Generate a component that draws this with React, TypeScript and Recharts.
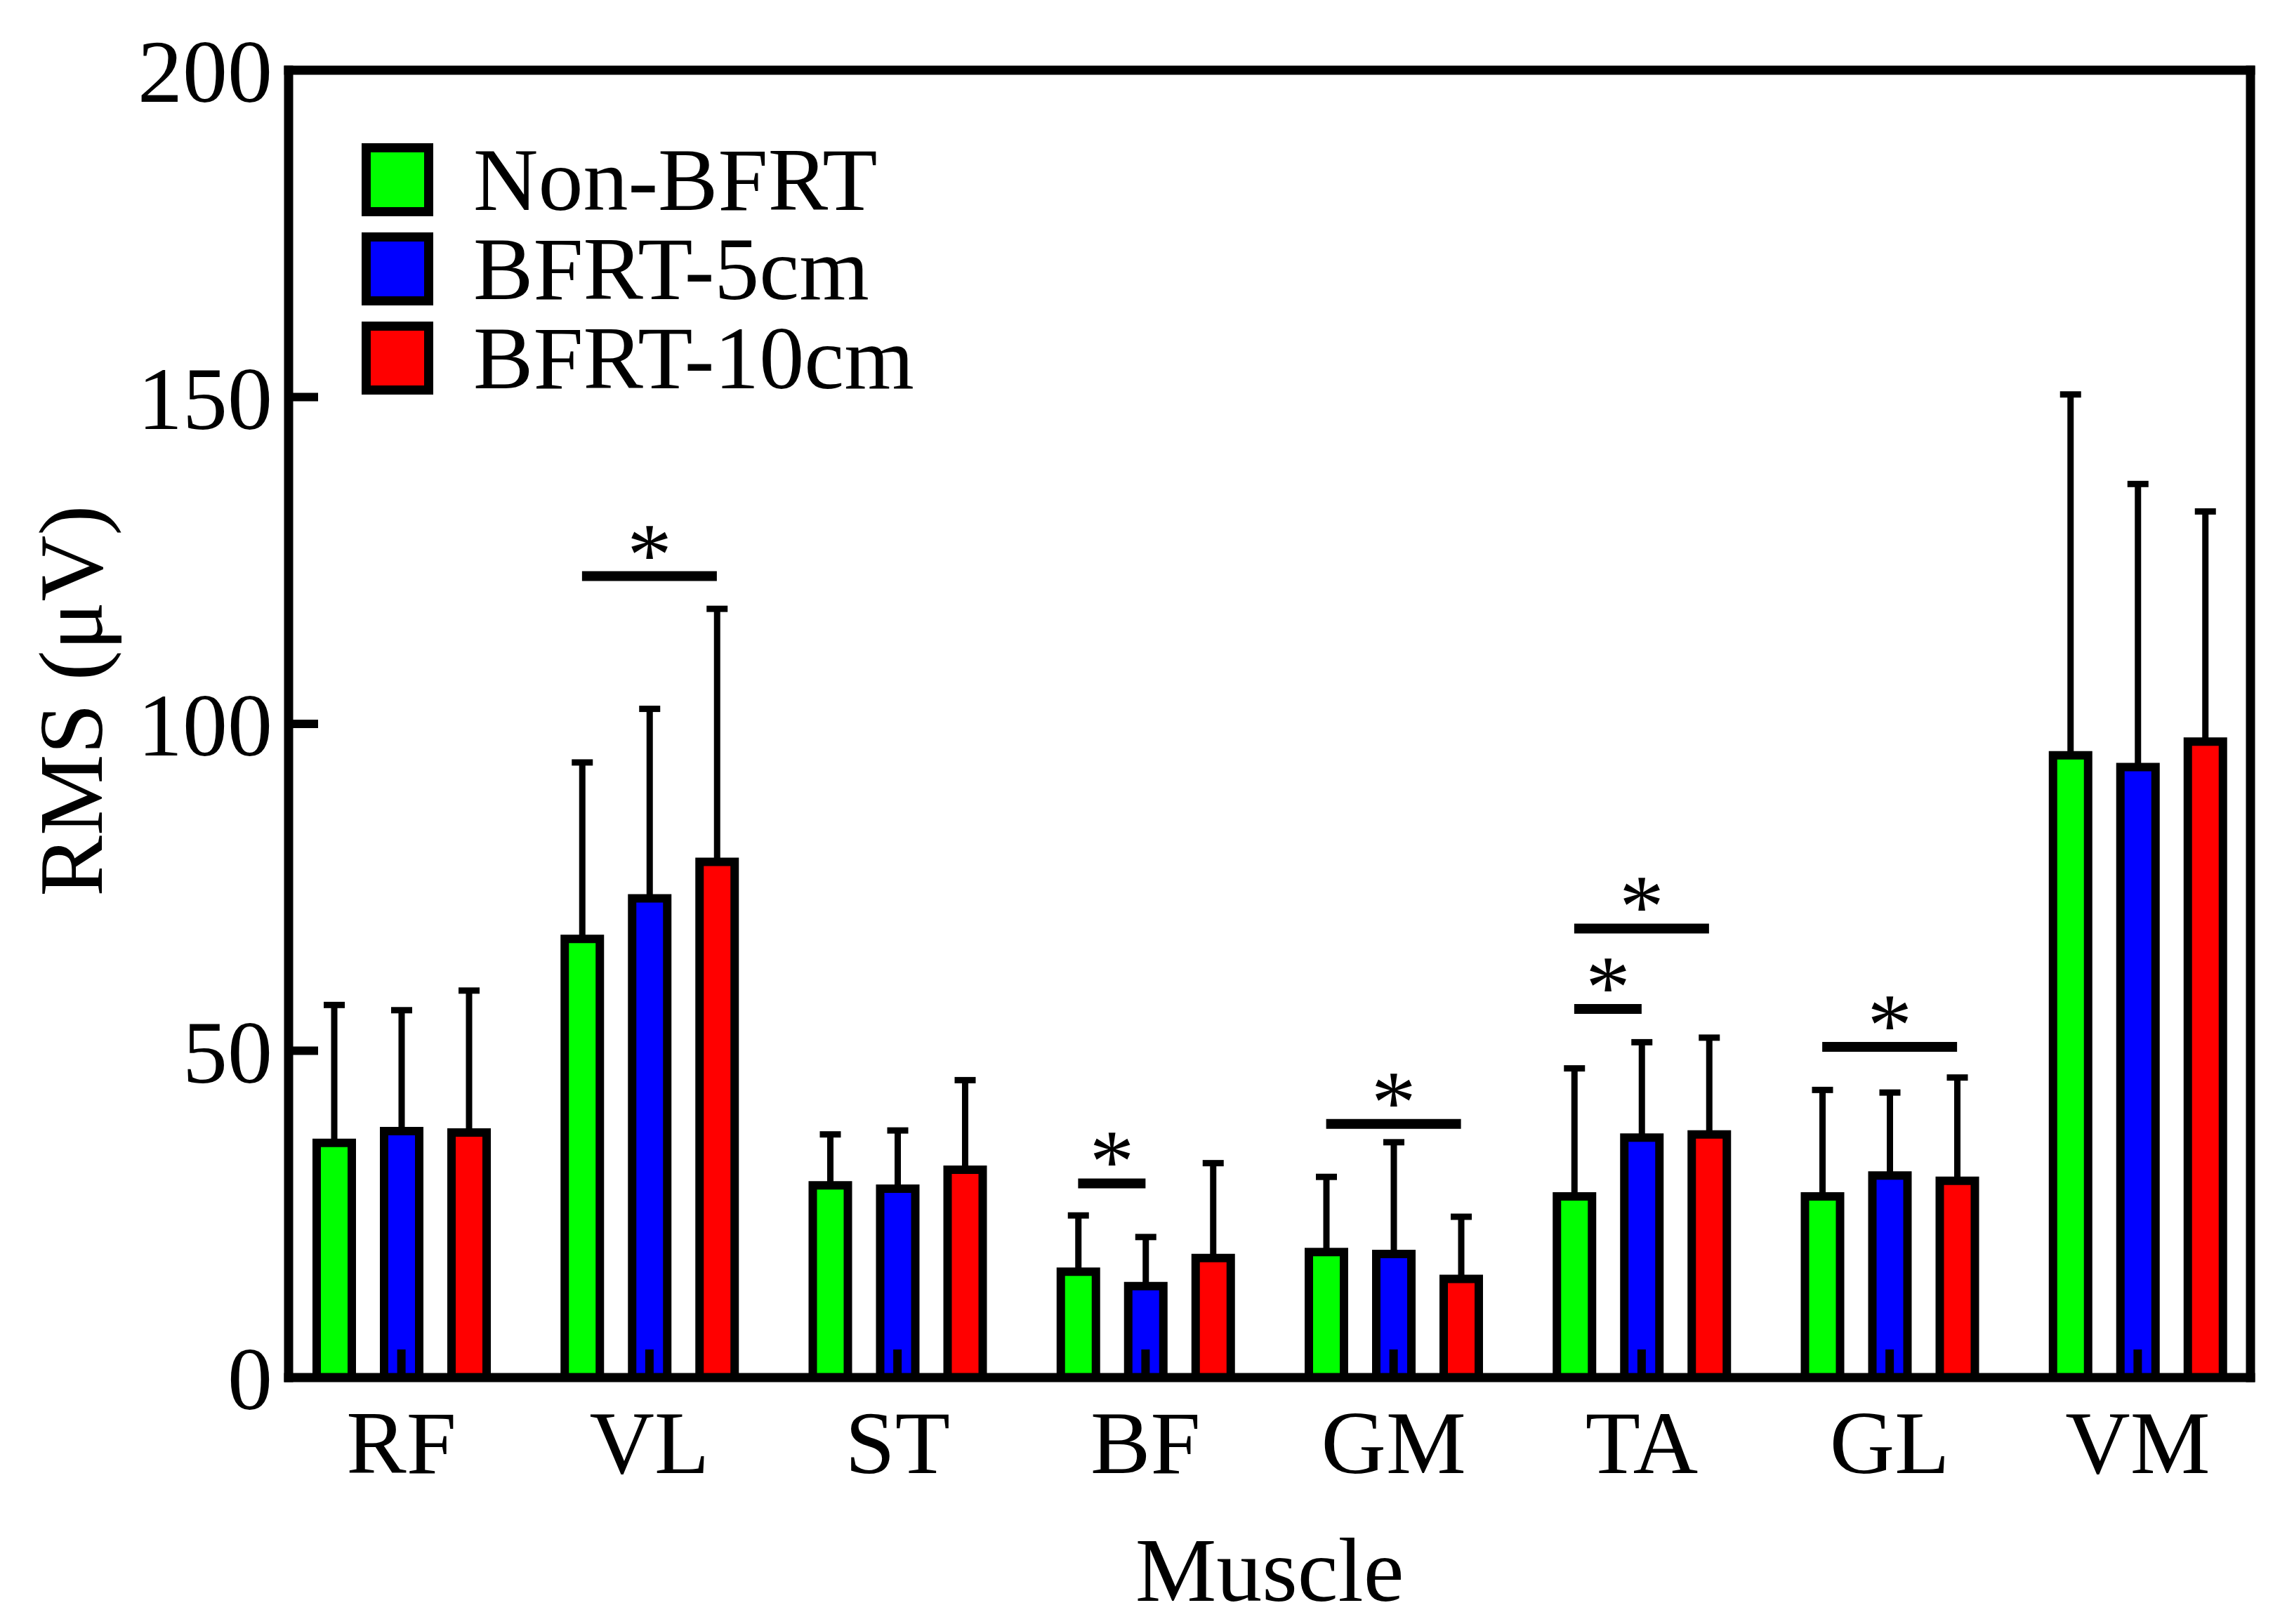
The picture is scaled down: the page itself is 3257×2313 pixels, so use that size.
import React from 'react';
import { ComposedChart, Bar, ErrorBar, XAxis, YAxis, ReferenceLine, Legend } from 'recharts';

const FONT = '"Liberation Serif", "Times New Roman", serif';

// values (mean and upper SD, µV)
const muscles = ['RF', 'VL', 'ST', 'BF', 'GM', 'TA', 'GL', 'VM'];
const nonBfrtMean = [35.9, 67.1, 29.4, 16.2, 19.2, 27.7, 27.7, 95.2];
const nonBfrtSd = [21.1, 27.0, 7.8, 8.6, 11.5, 19.6, 16.3, 55.2];
const bfrt5Mean = [37.7, 73.3, 28.9, 14.0, 18.9, 36.7, 30.9, 93.4];
const bfrt5Sd = [18.5, 29.0, 8.9, 7.5, 17.1, 14.6, 12.7, 43.3];
const bfrt10Mean = [37.5, 78.9, 31.8, 18.3, 15.1, 37.2, 30.1, 97.3];
const bfrt10Sd = [21.7, 38.7, 13.7, 14.5, 9.5, 14.8, 15.8, 35.2];
const yTicks = [0, 50, 100, 150, 200];

const series = [
  { key: 'nonBfrt', name: 'Non-BFRT', color: '#00ff00' },
  { key: 'bfrt5', name: 'BFRT-5cm', color: '#0000ff' },
  { key: 'bfrt10', name: 'BFRT-10cm', color: '#ff0000' },
];

// significance brackets: muscle, from/to group index, height in µV
const sigMuscle = ['VL', 'BF', 'GM', 'TA', 'TA', 'GL'];
const sigFrom = [0, 0, 0, 0, 0, 0];
const sigTo = [2, 1, 2, 1, 2, 2];
const sigLevel = [122.6, 29.7, 38.8, 56.4, 68.7, 50.6];

const data = muscles.map((m, i) => ({
  muscle: m,
  nonBfrt: nonBfrtMean[i],
  nonBfrtErr: [0, nonBfrtSd[i]],
  bfrt5: bfrt5Mean[i],
  bfrt5Err: [0, bfrt5Sd[i]],
  bfrt10: bfrt10Mean[i],
  bfrt10Err: [0, bfrt10Sd[i]],
}));

const W = 3257;
const H = 2313;
const MARGIN = { top: 80, right: 32, bottom: 51, left: 111 };
const LEFT_W = 300;
const RIGHT_W = 20;
const PAD = -16;
const BAR = 50;
const GAP = 46;
const PLOT_W = W - MARGIN.left - MARGIN.right - LEFT_W - RIGHT_W;
const BAND = (PLOT_W - 2 * PAD) / muscles.length;
// the hidden numeric axis runs from the first to the last category centre
const NUM_PAD = PAD + BAND / 2;

// position on the hidden numeric axis of the centre of bar k in category i
const barCentre = (i: number, k: number) => i + ((k - 1) * (BAR + GAP)) / BAND;

const axisLine = { stroke: '#000', strokeWidth: 13, strokeLinecap: 'square' as const };
const tickLine = { stroke: '#000', strokeWidth: 12 };
const tickFont = { fill: '#000', fontSize: 128, fontFamily: FONT };

const YTitle = (props: any) => {
  const vb = props.viewBox || { x: MARGIN.left, y: MARGIN.top + 20, width: LEFT_W, height: 1862 };
  const cx = vb.x + 34;
  const cy = vb.y + vb.height / 2 - 33;
  return (
    <text
      x={cx}
      y={cy}
      transform={`rotate(-90, ${cx}, ${cy})`}
      textAnchor="middle"
      fill="#000"
      fontSize={130}
      fontFamily={FONT}
    >
      RMS (μV)
    </text>
  );
};

const LegendBox = () => (
  <div style={{ fontFamily: FONT }}>
    {series.map((s) => (
      <div key={s.key} style={{ display: 'flex', alignItems: 'center', height: 127 }}>
        <svg width={102} height={104} style={{ display: 'block' }}>
          <rect x={6.5} y={6.5} width={89} height={91} fill={s.color} stroke="#000" strokeWidth={13} />
        </svg>
        <span
          style={{
            display: 'block',
            marginLeft: 57,
            fontSize: 128,
            height: 110,
            lineHeight: '110px',
            color: '#000',
            whiteSpace: 'nowrap',
          }}
        >
          {s.name}
        </span>
      </div>
    ))}
  </div>
);

export default function App() {
  return (
    <div style={{ position: 'absolute', left: 0, top: 0, width: W, height: H, background: '#fff' }}>
      <ComposedChart width={W} height={H} data={data} margin={MARGIN} barGap={GAP}>
        {series.map((s) => (
          <Bar
            key={s.key}
            dataKey={s.key}
            name={s.name}
            fill={s.color}
            stroke="#000"
            strokeWidth={12}
            barSize={BAR}
            isAnimationActive={false}
          >
            <ErrorBar
              dataKey={`${s.key}Err`}
              direction="y"
              width={15}
              stroke="#000"
              strokeWidth={9}
              isAnimationActive={false}
            />
          </Bar>
        ))}

        {sigLevel.map((lvl, j) => {
          const i = muscles.indexOf(sigMuscle[j]);
          return (
            <ReferenceLine
              key={`sig-${j}`}
              xAxisId="num"
              segment={[
                { x: barCentre(i, sigFrom[j]), y: lvl },
                { x: barCentre(i, sigTo[j]), y: lvl },
              ]}
              stroke="#000"
              strokeWidth={14}
              ifOverflow="visible"
              label={{ value: '*', position: 'top', offset: -12, fill: '#000', fontSize: 128, fontFamily: FONT }}
            />
          );
        })}

        <XAxis
          dataKey="muscle"
          height={300}
          padding={{ left: PAD, right: PAD }}
          interval={0}
          axisLine={axisLine}
          tickLine={tickLine}
          tickSize={-40}
          tickMargin={85}
          tick={tickFont}
          label={{ value: 'Muscle', position: 'insideBottom', offset: -18, fill: '#000', fontSize: 130, fontFamily: FONT }}
        />
        <XAxis
          xAxisId="top"
          orientation="top"
          dataKey="muscle"
          height={20}
          padding={{ left: PAD, right: PAD }}
          interval={0}
          axisLine={axisLine}
          tickLine={tickLine}
          tickSize={-42}
          tick={false}
        />
        <XAxis
          xAxisId="num"
          type="number"
          domain={[0, muscles.length - 1]}
          padding={{ left: NUM_PAD, right: NUM_PAD }}
          allowDataOverflow
          hide
        />
        <YAxis
          width={LEFT_W}
          domain={[0, 200]}
          ticks={yTicks}
          interval={0}
          allowDataOverflow
          axisLine={axisLine}
          tickLine={tickLine}
          tickSize={-42}
          tickMargin={65}
          tick={tickFont}
          label={<YTitle />}
        />
        <YAxis
          yAxisId="right"
          orientation="right"
          width={RIGHT_W}
          domain={[0, 200]}
          ticks={yTicks}
          interval={0}
          axisLine={axisLine}
          tickLine={tickLine}
          tickSize={-42}
          tick={false}
        />
        <Legend
          layout="vertical"
          align="center"
          verticalAlign="middle"
          wrapperStyle={{ left: 515, top: 192, width: 'auto', height: 'auto' }}
          content={() => <LegendBox />}
        />
      </ComposedChart>
    </div>
  );
}
